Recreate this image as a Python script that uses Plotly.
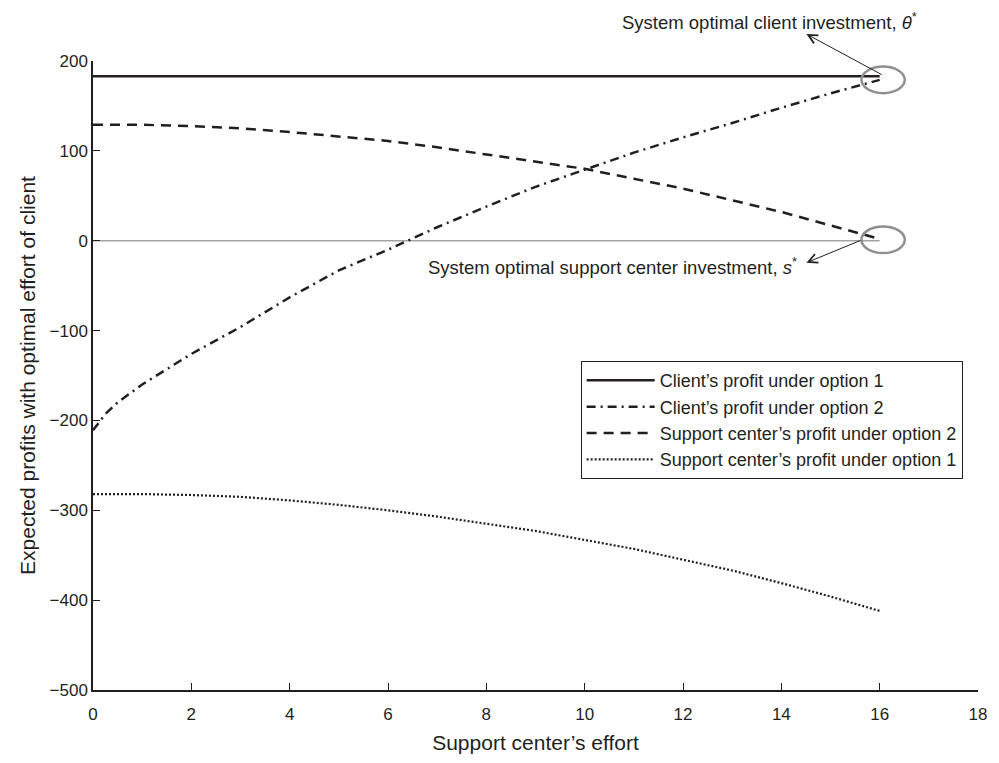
import plotly.graph_objects as go

# Data
effort = [0, 1, 2, 3, 4, 5, 6, 7, 8, 9, 10, 11, 12, 13, 14, 15, 16]
effort_c2 = [0, 0.25, 0.5, 1, 1.5, 2, 3, 4, 5, 6, 7, 8, 9, 10, 11, 12, 13, 14, 15, 16]

client_opt1 = [183] * 17
client_opt2 = [-211, -193, -180, -160, -143, -126, -96, -63, -33, -10, 15, 38, 60, 79, 98, 115, 131, 148, 164, 179]
support_opt2 = [129, 129, 127.5, 125, 121, 116, 111, 104, 96, 88, 80, 69, 58, 45, 32, 17, 2]
support_opt1 = [-282, -282, -283, -285, -289, -294, -300, -307, -315, -323, -333, -343, -355, -367, -381, -396, -412]

zero_x = [0, 16]
zero_y = [0, 0]

x_ticks = [0, 2, 4, 6, 8, 10, 12, 14, 16, 18]
y_ticks = [200, 100, 0, -100, -200, -300, -400, -500]

INK = "#231f20"
FONT = "Liberation Sans, Arial, Helvetica, sans-serif"

fig = go.Figure()

# thin gray zero reference line
fig.add_trace(go.Scatter(x=zero_x, y=zero_y, mode="lines",
                         line=dict(color="#a3a3a3", width=1.6),
                         showlegend=False, hoverinfo="skip"))

fig.add_trace(go.Scatter(x=effort, y=client_opt1, mode="lines",
                         name="Client\u2019s profit under option 1",
                         line=dict(color=INK, width=2.5)))
fig.add_trace(go.Scatter(x=effort_c2, y=client_opt2, mode="lines",
                         name="Client\u2019s profit under option 2",
                         line=dict(color=INK, width=2.5, dash="9px,5px,2px,5px")))
fig.add_trace(go.Scatter(x=effort, y=support_opt2, mode="lines",
                         name="Support center\u2019s profit under option 2",
                         line=dict(color=INK, width=2.5, dash="10px,7px")))
fig.add_trace(go.Scatter(x=effort, y=support_opt1, mode="lines",
                         name="Support center\u2019s profit under option 1",
                         line=dict(color=INK, width=2.2, dash="2px,2px")))

# gray ellipses marking optima
for cy in (179, 1):
    fig.add_shape(type="circle", xref="x", yref="y",
                  x0=15.63, x1=16.51, y0=cy - 14.8, y1=cy + 14.8,
                  line=dict(color="#8f8f8f", width=2.5))

# arrows (head near text, tail at circle)
fig.add_annotation(x=14.51, y=230, ax=16.07, ay=184, xref="x", yref="y",
                   axref="x", ayref="y", text="", showarrow=True,
                   arrowhead=5, arrowsize=1.8, arrowwidth=1, arrowcolor=INK)
fig.add_annotation(x=14.51, y=-24.5, ax=15.64, ay=1, xref="x", yref="y",
                   axref="x", ayref="y", text="", showarrow=True,
                   arrowhead=5, arrowsize=1.8, arrowwidth=1, arrowcolor=INK)

fig.add_annotation(xref="paper", yref="paper", x=0.595, y=1.063,
                   xanchor="left", yanchor="middle",
                   text="System optimal client investment, <i>\u03b8</i><sup>*</sup>",
                   showarrow=False, font=dict(family=FONT, size=18.5, color=INK))
fig.add_annotation(xref="x", yref="y", x=6.78, y=-28, xanchor="left", yanchor="middle",
                   text="System optimal support center investment, <i>s</i><sup>*</sup>",
                   showarrow=False, font=dict(family=FONT, size=18.5, color=INK))

fig.update_layout(
    width=999, height=763, autosize=False,
    margin=dict(l=93, r=12, t=61, b=65),
    paper_bgcolor="white", plot_bgcolor="white",
    font=dict(family=FONT, size=17, color=INK),
    showlegend=True,
    legend=dict(x=0.551, y=0.523, xanchor="left", yanchor="top",
                bordercolor=INK, borderwidth=1, bgcolor="white",
                font=dict(family=FONT, size=18, color=INK),
                tracegroupgap=0, itemwidth=68),
    xaxis=dict(range=[0, 18], tickvals=x_ticks, ticktext=[str(v) for v in x_ticks],
               showline=True, linecolor=INK, linewidth=1.5, mirror=False,
               ticks="inside", ticklen=7, tickcolor=INK, tickwidth=1,
               showgrid=False, zeroline=False, ticklabelstandoff=8,
               tickfont=dict(family=FONT, size=17, color=INK),
               title=dict(text="Support center\u2019s effort", standoff=12,
                          font=dict(family=FONT, size=21, color=INK))),
    yaxis=dict(range=[-500, 200], tickvals=y_ticks,
               showline=True, linecolor=INK, linewidth=1.5, mirror=False,
               ticks="inside", ticklen=7, tickcolor=INK, tickwidth=1,
               showgrid=False, zeroline=False,
               tickfont=dict(family=FONT, size=17, color=INK),
               title=dict(text="Expected profits with optimal effort of client", standoff=8,
                          font=dict(family=FONT, size=21, color=INK))),
)

fig.write_html("out.html",
               config={"displayModeBar": False, "responsive": False},
               post_script="document.body.style.margin='0';document.body.style.overflow='hidden';")
